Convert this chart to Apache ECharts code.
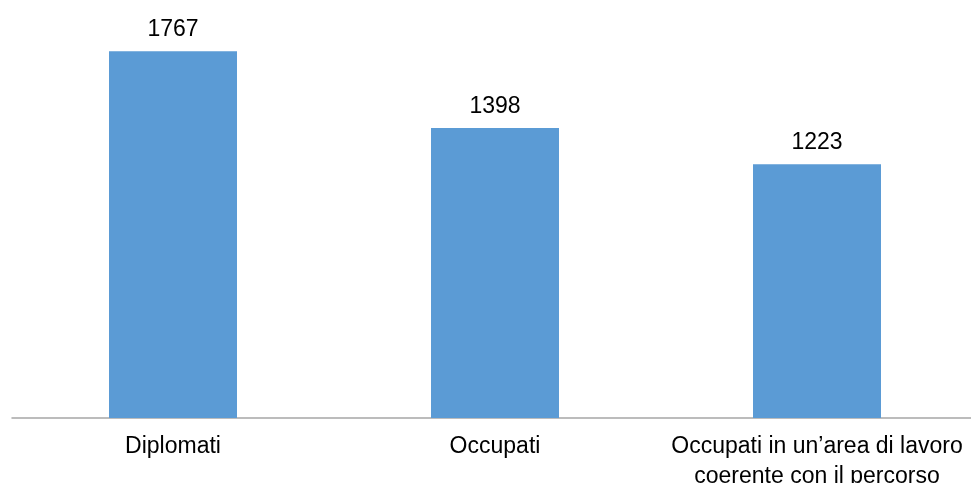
<!DOCTYPE html>
<html>
<head>
<meta charset="utf-8">
<script src="https://cdn.jsdelivr.net/npm/echarts@6/dist/echarts.min.js"></script>
<style>
html, body { margin: 0; padding: 0; background: #fff; overflow: hidden; }
#main { width: 978px; height: 483px; }
</style>
</head>
<body>
<div id="main"></div>
<script>
var categories = ['Diplomati', 'Occupati', 'Occupati in un\u2019area di lavoro\ncoerente con il percorso'];
var values = [1767, 1398, 1223];

var myChart = echarts.init(document.getElementById('main'));

var option = {
    animation: false,
    grid: {
        left: 12,
        right: 0,
        top: 3,
        bottom: 65,
        containLabel: false,
        outerBoundsMode: 'none'
    },
    xAxis: {
        type: 'category',
        data: categories,
        axisTick: { show: false },
        axisLine: {
            lineStyle: { color: '#A6A6A6', width: 1.5 }
        },
        axisLabel: {
            interval: 0,
            margin: 14,
            color: '#000',
            fontFamily: 'Liberation Sans, Arial, sans-serif',
            fontSize: 23,
            lineHeight: 30
        }
    },
    yAxis: {
        type: 'value',
        min: 0,
        max: 2000,
        show: false,
        splitLine: { show: false }
    },
    series: [{
        type: 'bar',
        data: values,
        barWidth: 128,
        itemStyle: { color: '#5B9BD5' },
        label: {
            show: true,
            position: 'top',
            distance: 10,
            color: '#000',
            fontFamily: 'Liberation Sans, Arial, sans-serif',
            fontSize: 23
        }
    }]
};

myChart.setOption(option);
</script>
</body>
</html>
